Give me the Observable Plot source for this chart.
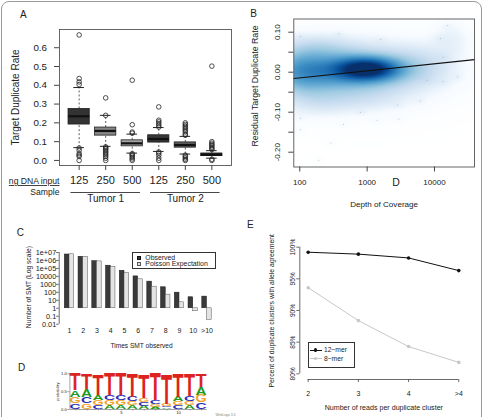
<!DOCTYPE html>
<html><head><meta charset="utf-8">
<script src="https://cdn.jsdelivr.net/npm/d3@7"></script>
<script src="https://cdn.jsdelivr.net/npm/@observablehq/plot@0.6"></script>
<style>
html,body{margin:0;padding:0;background:#fff;overflow:hidden;}
#fig{position:relative;width:484px;height:417px;overflow:hidden;font-family:"Liberation Sans",Arial,Helvetica,sans-serif;color:#222;}
#fig svg{position:absolute;overflow:visible;}
.t{position:absolute;white-space:nowrap;line-height:1;transform:translate(-50%,-50%);}
.tl{position:absolute;white-space:nowrap;line-height:1;transform:translate(0,-50%);}
</style></head><body><div id="fig"></div>
<script>
// ---------------- DATA ----------------
// Panel A
const doseLabels = ["125","250","500","125","250","500"];
const sampleGroups = ["Tumor 1","Tumor 2"];
const groupFirstBox = [1, 4];
const groupLastBox = [3, 6];
const rateTicks = [0, 0.1, 0.2, 0.3, 0.4, 0.5, 0.6];
const boxQ1 = [0.191, 0.132, 0.075, 0.095, 0.068, 0.023];
const boxMedian = [0.235, 0.157, 0.091, 0.114, 0.082, 0.030];
const boxQ3 = [0.274, 0.175, 0.107, 0.134, 0.096, 0.037];
const whiskerLow = [0.068, 0.075, 0.039, 0.048, 0.034, 0.012];
const whiskerHigh = [0.388, 0.240, 0.140, 0.175, 0.128, 0.052];
const outliersByBox = [
  [0.668, 0.436, 0.418, 0.404, 0.066, 0.053, 0.036, 0.028, 0.021, 0.0],
  [0.333, 0.24, 0.072, 0.066, 0.06, 0.052, 0.045, 0.038, 0.03, 0.022, 0.012, 0.0],
  [0.427, 0.19, 0.151, 0.145, 0.036, 0.03, 0.024, 0.016, 0.008, 0.0],
  [0.285, 0.214, 0.205, 0.196, 0.187, 0.178, 0.045, 0.038, 0.027, 0.012, 0.0],
  [0.2, 0.192, 0.184, 0.176, 0.168, 0.16, 0.152, 0.14, 0.134, 0.028, 0.022, 0.014, 0.006, 0.0],
  [0.502, 0.1, 0.092, 0.085, 0.078, 0.07, 0.064, 0.058, 0.006, 0.0]
];

// Panel B (depth on log10 axis)
const depthTicks = [100, 1000, 10000];
const residTicks = [0.10, 0.00, -0.10, -0.20];
const residMinorTicks = [0.10, 0.05, 0.00, -0.05, -0.10, -0.15, -0.20];
const blobLogDepth = [3.0, 2.7, 2.0, 2.8, 2.3, 2.3, 3.8, 4.25, 3.0];
const blobResid    = [0.008, 0.003, 0.002, 0.0, 0.065, -0.075, 0.02, 0.085, -0.07];
const blobSpreadX  = [0.3, 0.65, 0.3, 0.9, 0.35, 0.35, 0.35, 0.2, 0.4];
const blobSpreadY  = [0.018, 0.035, 0.04, 0.06, 0.02, 0.025, 0.035, 0.03, 0.02];
const blobWeight   = [0.7, 0.45, 0.25, 0.12, 0.09, 0.09, 0.09, 0.07, 0.06];
const speckLogDepth = [2.01, 2.58, 3.2, 2.01, 2.01, 2.46, 2.28, 2.65, 3.15, 3.47, 3.79, 3.89, 4.09, 4.19, 4.34, 4.13, 4.13, 3.45, 2.9];
const speckResid    = [0.09, 0.096, 0.082, -0.115, -0.144, -0.177, -0.22, -0.13, -0.12, -0.117, -0.072, -0.02, 0.084, 0.117, -0.012, -0.024, 0.038, -0.082, -0.1];
const fitDepth = [81.5, 39300];
const fitResid = [-0.0157, 0.0316];

// Panel C
const smtTimes = ["1","2","3","4","5","6","7","8","9","10",">10"];
const smtObserved = [5.6e6, 2.9e6, 8.3e5, 2.2e5, 5.1e4, 1.0e4, 2.2e3, 430, 91, 24, 29];
const smtPoisson  = [6.0e6, 2.9e6, 7.6e5, 1.6e5, 2.9e4, 4.3e3, 510, 51, 5.6, 0.42, 0.035];
const smtTickValues = [1e7, 1e6, 1e5, 1e4, 1e3, 100, 10, 1, 0.1, 0.01];
const smtTickLabels = ["1e+07","1e+06","1e+05","10000","1000","100","10","1","0.1","0.01"];

// Panel D (sequence logo probabilities)
const logoPositions = [1,2,3,4,5,6,7,8,9,10,11,12];
const probT = [0.47, 0.44, 0.60, 0.62, 0.62, 0.65, 0.68, 0.76, 0.85, 0.65, 0.63, 0.37];
const probA = [0.20, 0.21, 0.15, 0.11, 0.11, 0.10, 0.09, 0.07, 0.045, 0.13, 0.10, 0.23];
const probC = [0.16, 0.19, 0.12, 0.14, 0.14, 0.13, 0.11, 0.09, 0.05, 0.10, 0.15, 0.19];
const probG = [0.17, 0.16, 0.13, 0.13, 0.13, 0.12, 0.12, 0.08, 0.055, 0.12, 0.12, 0.21];
const logoTicks = [0, 0.5, 1];
const logoXTicks = [5, 10];

// Panel E
const readsPerCluster = ["2","3","4",">4"];
const agree12mer = [99.2, 98.9, 98.3, 96.3];
const agree8mer = [93.6, 88.4, 84.3, 81.8];
const pctTicks = [80, 85, 90, 95, 100];

// ---------------- HELPERS ----------------
const FONT = '"Liberation Sans", Arial, Helvetica, sans-serif';
const fig = document.getElementById("fig");
function put(svg, left, top) { svg.style.left = left + "px"; svg.style.top = top + "px"; fig.appendChild(svg); }
function html(cls, text, x, y, size, extra = "") {
  const d = document.createElement("div");
  d.className = cls; d.textContent = text;
  d.style.cssText += `left:${x}px;top:${y}px;font-size:${size}px;${extra}`;
  fig.appendChild(d); return d;
}
function box(x, y, w, h, extra) {
  const d = document.createElement("div");
  d.style.cssText = `position:absolute;left:${x}px;top:${y}px;width:${w}px;height:${h}px;box-sizing:border-box;${extra}`;
  fig.appendChild(d); return d;
}
const baseStyle = {fontFamily: FONT, background: "none", overflow: "visible", color: "#222"};
const vText = {rotate: -90, textAnchor: "middle", lineAnchor: "middle"};

// outer border
box(1, 1, 480.5, 440, "border:1px solid #9a9a9a;border-radius:8px;");

function safe(name, fn) { try { fn(); } catch (e) { console.error(name, e); } }

// ---------------- PANEL A ----------------
safe("A", () => {
const boxFills = ["#333333", "#858585", "#a3a3a3", "#363636", "#5e5e5e", "#2a2a2a"];
const boxRows = doseLabels.map((dose, i) => ({b: i + 1, dose, q1: boxQ1[i], med: boxMedian[i], q3: boxQ3[i], lo: whiskerLow[i], hi: whiskerHigh[i]}));
const outRows = outliersByBox.flatMap((vals, i) => vals.map(v => ({b: i + 1, v})));
const groupRows = sampleGroups.map((name, i) => ({name, first: groupFirstBox[i], last: groupLastBox[i]}));
const yDomA = [-0.027, 0.697];
const plotA = Plot.plot({
  width: 240, height: 210, marginLeft: 59, marginRight: 9, marginTop: 29, marginBottom: 45,
  style: {...baseStyle, fontSize: "10px"},
  x: {domain: [0.26, 6.74], axis: null, label: null},
  y: {domain: yDomA, axis: null, label: null},
  color: {type: "identity"},
  marks: [
    Plot.ruleX(boxRows, {x: "b", y1: "q3", y2: "hi", stroke: "#333", strokeWidth: 0.8, strokeDasharray: "2,2"}),
    Plot.ruleX(boxRows, {x: "b", y1: "lo", y2: "q1", stroke: "#333", strokeWidth: 0.8, strokeDasharray: "2,2"}),
    Plot.ruleY(boxRows, {y: "hi", x1: d => d.b - 0.2, x2: d => d.b + 0.2, stroke: "#222", strokeWidth: 1}),
    Plot.ruleY(boxRows, {y: "lo", x1: d => d.b - 0.2, x2: d => d.b + 0.2, stroke: "#222", strokeWidth: 1}),
    Plot.rect(boxRows, {x1: d => d.b - 0.4, x2: d => d.b + 0.4, y1: "q1", y2: "q3", fill: (d, i) => boxFills[i], stroke: "#222", strokeWidth: 0.8}),
    Plot.ruleY(boxRows, {y: "med", x1: d => d.b - 0.4, x2: d => d.b + 0.4, stroke: "#111", strokeWidth: 2.2}),
    Plot.dot(outRows, {x: "b", y: "v", r: 2.3, stroke: "#222", strokeWidth: 0.8, fill: "none"}),
    Plot.frame({stroke: "#555", strokeWidth: 0.9}),
    Plot.axisY({ticks: rateTicks, tickSize: 5, fill: "none", stroke: "#444"}),
    Plot.text(rateTicks, {y: d => d, text: d => d.toFixed(1), frameAnchor: "left", textAnchor: "end", dx: -12.5, fontSize: 9.8}),
    Plot.axisX({ticks: boxRows.map(d => d.b), tickSize: 5, fill: "none", stroke: "#444"}),
    Plot.text(boxRows, {x: "b", text: "dose", frameAnchor: "bottom", dy: 18.5, fontSize: 11}),
    Plot.ruleY(groupRows, {y: yDomA[0], x1: d => d.first - 0.31, x2: d => d.last + 0.31, dy: 27, stroke: "#333", strokeWidth: 0.9}),
    Plot.text(groupRows, {x: d => (d.first + d.last) / 2, text: "name", frameAnchor: "bottom", dy: 36, fontSize: 10}),
    Plot.text(["ng DNA input"], {text: d => d, frameAnchor: "bottom-left", textAnchor: "end", dy: 18.5, fontSize: 8.6}),
    Plot.text(["Sample"], {text: d => d, frameAnchor: "bottom-left", textAnchor: "end", dy: 29.5, fontSize: 8.6}),
    Plot.text(["Target Duplicate Rate"], {text: d => d, frameAnchor: "left", ...vText, dx: -44, fontSize: 10})
  ]
});
put(plotA, 0, 0);
d3.select(plotA).selectAll("text").filter(function () { return this.textContent === "ng DNA input"; }).style("text-decoration", "underline");
});

// ---------------- PANEL B ----------------
safe("B", () => {
const blues = ["#FFFFFF","#F7FBFF","#DEEBF7","#C6DBEF","#9ECAE1","#6BAED6","#4292C6","#2171B5","#08519C","#08306B"];
const ramp = d3.piecewise(d3.interpolateRgb, blues);
function densityAt(lx, r) {
  let v = 0;
  for (let k = 0; k < blobLogDepth.length; k++) {
    const a = (lx - blobLogDepth[k]) / blobSpreadX[k], b = (r - blobResid[k]) / blobSpreadY[k];
    v += blobWeight[k] * Math.exp(-0.5 * (a * a + b * b));
  }
  for (let k = 0; k < speckLogDepth.length; k++) {
    const a = (lx - speckLogDepth[k]) / 0.06, b = (r - speckResid[k]) / 0.007;
    v += 0.02 * Math.exp(-0.5 * (a * a + b * b));
  }
  return Math.min(1, Math.pow(v, 0.7));
}
const xDomB = [1.911, 4.594], yDomB = [-0.237, 0.133];
const mB = {left: 53.3, right: 10, top: 18.5, bottom: 48.5};
const gw = Math.round(244 - mB.left - mB.right), gh = Math.round(215 - mB.top - mB.bottom);
// density grid sampled at the raster's pixel centres (in data space)
const grid = [];
for (let j = 0; j < gh; j++) {
  const r = yDomB[1] - (j + 0.5) / gh * (yDomB[1] - yDomB[0]);
  for (let i = 0; i < gw; i++) {
    const lx = xDomB[0] + (i + 0.5) / gw * (xDomB[1] - xDomB[0]);
    grid.push({x: lx, y: r, v: densityAt(lx, r)});
  }
}
const speckRows = speckLogDepth.map((x, i) => ({x, y: speckResid[i]}));
const fitRows = fitDepth.map((d, i) => ({x: Math.log10(d), y: fitResid[i]}));
const plotB = Plot.plot({
  width: 244, height: 215, marginLeft: mB.left, marginRight: mB.right, marginTop: mB.top, marginBottom: mB.bottom,
  style: {...baseStyle, fontSize: "8px"},
  x: {domain: xDomB, axis: null, label: null},
  y: {domain: yDomB, axis: null, label: null},
  color: {type: "linear", domain: [0, 1], interpolate: ramp, clamp: true},
  marks: [
    Plot.raster(grid, {x: "x", y: "y", fill: "v", width: gw, height: gh, imageRendering: "auto"}),
    Plot.dot(speckRows, {x: "x", y: "y", r: 0.5, fill: "#666", fillOpacity: 0.45}),
    Plot.line(fitRows, {x: "x", y: "y", stroke: "#111", strokeWidth: 1.2}),
    Plot.frame({stroke: "#555", strokeWidth: 0.9}),
    Plot.axisY({ticks: residMinorTicks, tickSize: 5, fill: "none", stroke: "#444"}),
    Plot.text(residTicks, {y: d => d, text: d => d.toFixed(2), frameAnchor: "left", ...vText, dx: -16.6, fontSize: 8}),
    Plot.axisX({ticks: depthTicks.map(Math.log10), tickSize: 5, fill: "none", stroke: "#444"}),
    Plot.text(depthTicks, {x: d => Math.log10(d), text: d => String(d), frameAnchor: "bottom", dy: 17.5, fontSize: 8}),
    Plot.text(["Depth of Coverage"], {text: d => d, frameAnchor: "bottom", dy: 39.5, fontSize: 8.1}),
    Plot.text(["D"], {text: d => d, frameAnchor: "bottom", dx: 12, dy: 18.5, fontSize: 10.5}),
    Plot.text(["Residual Target Duplicate Rate"], {text: d => d, frameAnchor: "left", ...vText, dx: -38.3, dy: -7, fontSize: 8.8})
  ]
});
put(plotB, 240, 0);
});

// ---------------- PANEL C ----------------
safe("C", () => {
const smtRows = smtTimes.map((t, i) => ({i: i + 1, t, obs: smtObserved[i], poi: smtPoisson[i]}));
const xDomC = [0.251, 11.75];
const barW = 0.342;
const plotC = Plot.plot({
  width: 240, height: 125, marginLeft: 58.7, marginRight: 23.2, marginTop: 22, marginBottom: 31.3,
  style: {...baseStyle, fontSize: "7px"},
  x: {domain: xDomC, axis: null, label: null},
  y: {type: "log", domain: [0.01, 1e7], axis: null, label: null},
  marks: [
    Plot.rect(smtRows, {x1: d => d.i - barW, x2: "i", y1: 1, y2: "obs", fill: "#3a3a3a", stroke: "#1a1a1a", strokeWidth: 0.5}),
    Plot.rect(smtRows, {x1: "i", x2: d => d.i + barW, y1: 1, y2: "poi", fill: "#e4e4e4", stroke: "#555", strokeWidth: 0.5}),
    Plot.ruleX([xDomC[0]], {y1: smtTickValues[smtTickValues.length - 1], y2: smtTickValues[0], stroke: "#444", strokeWidth: 0.8}),
    Plot.axisY({ticks: smtTickValues, tickSize: 2.5, fill: "none", stroke: "#444", strokeWidth: 0.8}),
    Plot.text(smtTickValues, {y: d => d, text: (d, i) => smtTickLabels[i], frameAnchor: "left", textAnchor: "end", dx: -3, fontSize: 7.3}),
    Plot.text(smtRows, {x: "i", text: "t", frameAnchor: "bottom", dy: 8.6, fontSize: 7}),
    Plot.text(["Times SMT observed"], {text: d => d, frameAnchor: "bottom", dx: 3.3, dy: 23.6, fontSize: 6.6}),
    Plot.text(["Number of SMT (Log scale)"], {text: d => d, frameAnchor: "left", ...vText, dx: -30.4, dy: -1.2, fontSize: 6.7})
  ]
});
put(plotC, 0, 230);
});
// legend C
box(132.3, 252, 83.4, 16.5, "border:0.8px solid #333;background:#fff;");
box(136.5, 255.7, 4.2, 4.2, "background:#3a3a3a;border:0.5px solid #111;");
box(136.5, 262.3, 4.2, 4.2, "background:#e4e4e4;border:0.5px solid #555;");
html("tl", "Observed", 145.3, 257.8, 6.9);
html("tl", "Poisson Expectation", 145.3, 264.4, 6.9);

// ---------------- PANEL D ----------------
safe("D", () => {
const baseColors = {A: "#1f9a1f", C: "#2a2ab5", G: "#f2a22a", T: "#dd2222"};
const letterAdvance = {A: 0.722, C: 0.722, G: 0.778, T: 0.611};
const logoRows = [];
logoPositions.forEach((pos, i) => {
  const probs = [["A", probA[i]], ["C", probC[i]], ["G", probG[i]], ["T", probT[i]]].sort((a, b) => a[1] - b[1]);
  let y = 0;
  for (const [base, p] of probs) { logoRows.push({pos, base, y0: y, y1: y + p}); y += p; }
});
const xDomD = [0.5, 12.5];
const plotD = Plot.plot({
  width: 240, height: 62, marginLeft: 69.4, marginRight: 33.3, marginTop: 18.3, marginBottom: 8,
  style: {...baseStyle, fontSize: "4.5px"},
  x: {domain: xDomD, axis: null, label: null},
  y: {domain: [0, 1], axis: null, label: null},
  color: {domain: Object.keys(baseColors), range: Object.values(baseColors)},
  marks: [
    Plot.text(logoRows, {x: "pos", y: "y0", text: "base", fill: "base", fontWeight: "bold", fontSize: 10}),
    Plot.ruleX([xDomD[0]], {y1: 0, y2: 1, stroke: "#666", strokeWidth: 0.6}),
    Plot.ruleY([0], {x1: xDomD[0], x2: xDomD[1], stroke: "#666", strokeWidth: 0.6}),
    Plot.axisY({ticks: logoTicks, tickSize: 2, fill: "none", stroke: "#666", strokeWidth: 0.6}),
    Plot.text(logoTicks, {y: d => d, text: d => d.toFixed(1), frameAnchor: "left", textAnchor: "end", dx: -3, fontSize: 4.2}),
    Plot.axisX({ticks: logoPositions, tickSize: 1.5, fill: "none", stroke: "#666", strokeWidth: 0.5}),
    Plot.text(logoXTicks, {x: d => d, text: d => String(d), frameAnchor: "bottom", dy: 4.5, fontSize: 4.2}),
    Plot.text(["probability"], {text: d => d, frameAnchor: "left", ...vText, dx: -11.7, fontSize: 4}),
    Plot.text(["WebLogo 3.3"], {text: d => d, frameAnchor: "bottom-right", textAnchor: "end", dx: 28.3, dy: 6.7, fontSize: 3.4, fill: "#888"})
  ]
});
put(plotD, 0, 355);
const xs = plotD.scale("x"), ys = plotD.scale("y");
const colW = Math.abs(xs.apply(1.5) - xs.apply(0.5)) * 0.97;
const F = 10, cap = 0.716 * F;
const groups = Array.from(plotD.querySelectorAll("g"));
const logoG = groups.find(g => g.childElementCount === logoRows.length && g.querySelector("text"));
Array.from(logoG.querySelectorAll("text")).forEach((el, j) => {
  const d = el.__data__;
  const k = typeof d === "number" ? d : j;
  const r = logoRows[k];
  const px = xs.apply(r.pos), pb = ys.apply(r.y0), pt = ys.apply(r.y1);
  const h = Math.max(0.01, pb - pt);
  const sx = colW / (letterAdvance[r.base] * F), sy = h / cap;
  el.removeAttribute("x"); el.removeAttribute("y"); el.removeAttribute("dy");
  el.setAttribute("text-anchor", "middle");
  el.setAttribute("font-size", F);
  el.setAttribute("transform", `translate(${px},${pb}) scale(${sx},${sy})`);
});
logoG.removeAttribute("transform");
});

// ---------------- PANEL E ----------------
safe("E", () => {
const eRows = readsPerCluster.map((label, i) => ({i: i + 1, label, a12: agree12mer[i], a8: agree8mer[i]}));
const xDomE = [0.833, 4.12];
const yDomE = [79.1, 100.8];
const plotE = Plot.plot({
  width: 244, height: 202, marginLeft: 59.3, marginRight: 19.7, marginTop: 26.6, marginBottom: 38,
  style: {...baseStyle, fontSize: "7px"},
  x: {domain: xDomE, axis: null, label: null},
  y: {domain: yDomE, axis: null, label: null},
  marks: [
    Plot.ruleX([xDomE[0]], {y1: pctTicks[0], y2: pctTicks[pctTicks.length - 1], stroke: "#444", strokeWidth: 0.8}),
    Plot.ruleY([yDomE[0]], {x1: 1, x2: readsPerCluster.length, stroke: "#444", strokeWidth: 0.8}),
    Plot.axisY({ticks: pctTicks, tickSize: 3, fill: "none", stroke: "#444", strokeWidth: 0.8}),
    Plot.text(pctTicks, {y: d => d, text: d => d + "%", frameAnchor: "left", ...vText, dx: -7.3, fontSize: 6.6}),
    Plot.axisX({ticks: eRows.map(d => d.i), tickSize: 3, fill: "none", stroke: "#444", strokeWidth: 0.8}),
    Plot.text(eRows, {x: "i", text: "label", frameAnchor: "bottom", dy: 16, fontSize: 7}),
    Plot.line(eRows, {x: "i", y: "a8", stroke: "#c8c8c8", strokeWidth: 1}),
    Plot.dot(eRows, {x: "i", y: "a8", r: 1.8, fill: "#c8c8c8"}),
    Plot.line(eRows, {x: "i", y: "a12", stroke: "#111", strokeWidth: 1}),
    Plot.dot(eRows, {x: "i", y: "a12", r: 1.8, fill: "#111"}),
    Plot.text(["Number of reads per duplicate cluster"], {text: d => d, frameAnchor: "bottom", dx: 1.5, dy: 30, fontSize: 7.1}),
    Plot.text(["Percent of duplicate clusters with allele agreement"], {text: d => d, frameAnchor: "left", ...vText, dx: -27.6, fontSize: 6.9})
  ]
});
put(plotE, 240, 215);
});
// legend E
box(307.7, 341.7, 47.5, 26.8, "border:0.8px solid #333;background:#fff;");
box(309.5, 349.5, 12.2, 1, "background:#111;");
box(313.5, 348.2, 3.6, 3.6, "background:#111;border-radius:50%;");
box(309.5, 358.2, 12.2, 1, "background:#c8c8c8;");
box(313.5, 356.9, 3.6, 3.6, "background:#c8c8c8;border-radius:50%;");
html("tl", "12\u2212mer", 324, 350.2, 6.7);
html("tl", "8\u2212mer", 324, 358.9, 6.7);

// ---------------- PANEL LETTERS ----------------
html("t", "A", 23.3, 15, 10);
html("t", "B", 253.5, 14, 10);
html("t", "C", 20.3, 233, 10);
html("t", "D", 21.7, 367.7, 10);
html("t", "E", 250.3, 225, 10);
</script></body></html>
